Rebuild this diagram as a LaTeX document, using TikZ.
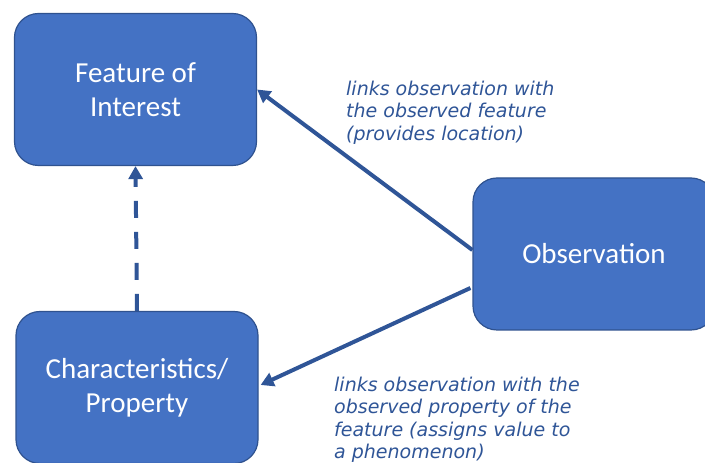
\documentclass[tikz,border=0pt]{standalone}
\usepackage{fontspec}
\setmainfont{Carlito}
\newfontfamily\notefont{DejaVu Sans}
\usetikzlibrary{arrows.meta}
\definecolor{boxblue}{HTML}{4472C4}
\definecolor{boxedge}{HTML}{2F528F}
\definecolor{linkblue}{HTML}{2F5597}
\begin{document}
\begin{tikzpicture}[x=1pt,y=1pt,
	entity/.style={draw=boxedge,line width=1.2pt,fill=boxblue,rounded corners=24pt,minimum width=242pt,minimum height=152pt,text=white,align=center,font=\fontsize{29}{34}\selectfont},
	link/.style={draw=linkblue,line width=4pt,-{Triangle[length=13pt,width=14pt]}},
	note/.style={text=linkblue,align=left,inner sep=0pt,anchor=north west,font=\notefont\itshape\fontsize{19}{22.6}\selectfont}]
	\useasboundingbox (0,0) rectangle (705,463);

	% Draw the three entities
	\node[entity] (foi) at (135.5,373.5) {Feature of\\Interest};
	\node[entity] (prop) at (137,75.5) {Characteristics/\\Property};
	\node[entity] (obs) at (594,209) {Observation};

	% Draw links between them
	\draw[link] ([yshift=4pt]obs.west) -- (foi.east);
	\draw[link] ([xshift=-2pt,yshift=-34pt]obs.west) -- ([xshift=2pt,yshift=2.5pt]prop.east);
	\draw[link,dash pattern=on 17pt off 14pt] (prop.north) -- (foi.south);

	% Label the links
	\node[note] (featnote) at (346,382.5) {links observation with\\the observed feature\\(provides location)};
	\node[note] (propnote) at (334,86.5) {links observation with the\\observed property of the\\feature (assigns value to\\a phenomenon)};
\end{tikzpicture}
\end{document}
